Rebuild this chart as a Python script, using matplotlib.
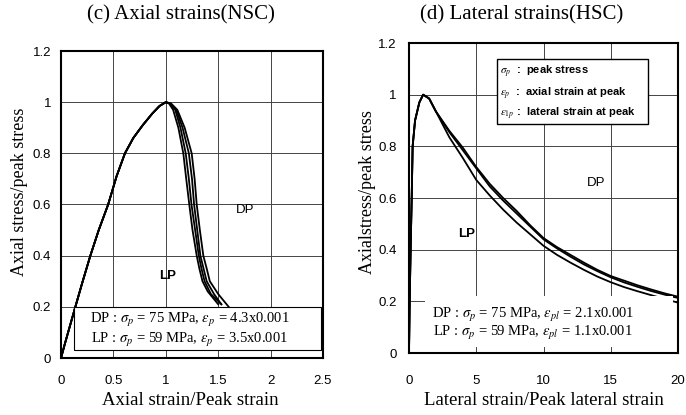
import matplotlib
matplotlib.use("Agg")
import matplotlib.pyplot as plt
from matplotlib.patches import Rectangle

plt.rcParams['mathtext.fontset'] = 'stix'

# (c) axial strains, NSC - shared rising branch, four falling branches
ax_up_x = [0, 0.04, 0.13, 0.2, 0.28, 0.36, 0.45, 0.53, 0.61, 0.69, 0.78, 0.87, 0.94, 1.0]
ax_up_y = [0, 0.06, 0.19, 0.29, 0.4, 0.5, 0.6, 0.71, 0.8, 0.86, 0.91, 0.955, 0.985, 1.0]

ax_dn_x = [
    [1.03, 1.07, 1.12, 1.167, 1.195, 1.224, 1.255, 1.295, 1.32, 1.35, 1.40, 1.46, 1.50],
    [1.04, 1.09, 1.14, 1.19, 1.22, 1.245, 1.28, 1.315, 1.34, 1.37, 1.43, 1.53],
    [1.04, 1.10, 1.16, 1.22, 1.25, 1.27, 1.30, 1.33, 1.36, 1.39, 1.46, 1.53],
    [1.05, 1.11, 1.18, 1.247, 1.275, 1.295, 1.325, 1.358, 1.39, 1.42, 1.50, 1.60],
]
ax_dn_y = [
    [0.995, 0.97, 0.9, 0.8, 0.7, 0.6, 0.5, 0.4, 0.35, 0.3, 0.26, 0.23, 0.21],
    [0.995, 0.97, 0.9, 0.8, 0.7, 0.6, 0.5, 0.4, 0.35, 0.3, 0.25, 0.21],
    [0.995, 0.97, 0.9, 0.8, 0.7, 0.6, 0.5, 0.4, 0.35, 0.3, 0.25, 0.21],
    [0.995, 0.97, 0.9, 0.8, 0.7, 0.6, 0.5, 0.4, 0.35, 0.3, 0.25, 0.20],
]

# (d) lateral strains, HSC
lat_up_x = [0, 0.05, 0.12, 0.2, 0.27, 0.45, 0.77, 1.05]
lat_up_y = [0, 0.2, 0.4, 0.6, 0.8, 0.9, 0.97, 1.0]

lat_dn_x = [1.5, 2, 3, 4, 5, 6, 7, 8, 9, 10, 11, 12, 13, 14, 15, 16, 17, 18, 19, 20]
lat_dn_y = [
    [0.985, 0.935, 0.86, 0.795, 0.72, 0.655, 0.60, 0.55, 0.495, 0.445, 0.41, 0.38,
     0.35, 0.322, 0.298, 0.28, 0.262, 0.246, 0.231, 0.218],
    [0.985, 0.935, 0.855, 0.785, 0.715, 0.645, 0.59, 0.54, 0.49, 0.44, 0.405, 0.373,
     0.343, 0.317, 0.293, 0.273, 0.256, 0.24, 0.226, 0.213],
    [0.985, 0.935, 0.835, 0.755, 0.67, 0.61, 0.555, 0.505, 0.46, 0.415, 0.38, 0.35,
     0.322, 0.296, 0.274, 0.255, 0.239, 0.224, 0.209, 0.195],
]

left_xticks = [0, 0.5, 1, 1.5, 2, 2.5]
left_xlabels = ['0', '0.5', '1', '1.5', '2', '2.5']
right_xticks = [0, 5, 10, 15, 20]
yticks = [0, 0.2, 0.4, 0.6, 0.8, 1.0, 1.2]
ylabels = ['0', '0.2', '0.4', '0.6', '0.8', '1', '1.2']

serif = 'Liberation Serif'
sans = 'Liberation Sans'


def style(ax, xticks, xlabels, xpad, ypad):
    ax.set_xticks(xticks)
    ax.set_xticklabels(xlabels, fontfamily=sans, fontsize=9.5)
    ax.set_yticks(yticks)
    ax.set_yticklabels(ylabels, fontfamily=sans, fontsize=9.5)
    ax.tick_params(axis='x', length=0, pad=xpad)
    ax.tick_params(axis='y', length=0, pad=ypad)
    ax.grid(True, color='#444444', lw=0.7)
    ax.set_axisbelow(True)
    for s in ax.spines.values():
        s.set_linewidth(1.5)
        s.set_color('black')


fig = plt.figure(figsize=(6.86, 4.15), dpi=100)

# ---- left panel
ax1 = fig.add_axes([61 / 686, 57 / 415, 262 / 686, 307 / 415])
for dx, dy in zip(ax_dn_x, ax_dn_y):
    ax1.plot(ax_up_x + dx, ax_up_y + dy, color='black', lw=1.3)
ax1.set_xlim(0, 2.5)
ax1.set_ylim(0, 1.2)
style(ax1, left_xticks, left_xlabels, 12, 7)
ax1.add_patch(Rectangle((0.12, 0.03), 2.36, 0.17, facecolor='white',
                        edgecolor='black', lw=0.8, zorder=2))
ax1.text(0.49, 0.124, r'DP : $\sigma_p$ = 75 MPa, $\varepsilon_p$ = 4.3x0.001',
         transform=ax1.transAxes, ha='center', va='center', fontfamily=serif,
         fontsize=10.5, zorder=3)
ax1.text(0.49, 0.058, r'LP : $\sigma_p$ = 59 MPa, $\varepsilon_p$ = 3.5x0.001',
         transform=ax1.transAxes, ha='center', va='center', fontfamily=serif,
         fontsize=10.5, zorder=3)
ax1.text(1.76, 0.58, 'DP', fontfamily=sans, fontsize=9.5, ha='center', va='center')
ax1.text(1.02, 0.32, 'LP', fontfamily=sans, fontsize=9.5, fontweight='bold',
         ha='center', va='center')

# ---- right panel
ax2 = fig.add_axes([409 / 686, 62 / 415, 269 / 686, 310 / 415])
for dy in lat_dn_y:
    ax2.plot(lat_up_x + lat_dn_x, lat_up_y + dy, color='black', lw=1.3)
ax2.set_xlim(0, 20)
ax2.set_ylim(0, 1.2)
style(ax2, right_xticks, [str(v) for v in right_xticks], 16, 9)
ax2.add_patch(Rectangle((0.06, 0.02), 0.92, 0.165, transform=ax2.transAxes,
                        facecolor='white', edgecolor='none', zorder=2))
ax2.text(0.46, 0.123, r'DP : $\sigma_p$ = 75 MPa, $\varepsilon_{pl}$ = 2.1x0.001',
         transform=ax2.transAxes, ha='center', va='center', fontfamily=serif,
         fontsize=10.5, zorder=3)
ax2.text(0.46, 0.063, r'LP : $\sigma_p$ = 59 MPa, $\varepsilon_{pl}$ = 1.1x0.001',
         transform=ax2.transAxes, ha='center', va='center', fontfamily=serif,
         fontsize=10.5, zorder=3)
ax2.text(13.9, 0.66, 'DP', fontfamily=sans, fontsize=9.5, ha='center', va='center')
ax2.text(4.3, 0.46, 'LP', fontfamily=sans, fontsize=9.5, fontweight='bold',
         ha='center', va='center')

ax2.add_patch(Rectangle((0.327, 0.739), 0.561, 0.209, transform=ax2.transAxes,
                        facecolor='white', edgecolor='black', lw=1.0, zorder=4))
key = [r'$\sigma_p$  :  peak stress', r'$\varepsilon_p$  :  axial strain at peak',
       r'$\varepsilon_{1p}$ :  lateral strain at peak']
for yy, t in zip([0.907, 0.835, 0.77], key):
    ax2.text(0.34, yy, t, transform=ax2.transAxes, ha='left', va='center',
             fontfamily=sans, fontsize=8, fontweight='bold', zorder=5)

# titles and axis labels
fig.text(181 / 686, 1 - 15 / 415, '(c) Axial strains(NSC)', fontfamily=serif,
         fontsize=15, ha='center', va='center')
fig.text(522 / 686, 1 - 15 / 415, '(d) Lateral strains(HSC)', fontfamily=serif,
         fontsize=15, ha='center', va='center')
fig.text(190 / 686, 1 - 400 / 415, 'Axial strain/Peak strain', fontfamily=serif,
         fontsize=13.5, ha='center', va='center')
fig.text(544 / 686, 1 - 400 / 415, 'Lateral strain/Peak lateral strain',
         fontfamily=serif, fontsize=13.5, ha='center', va='center')
fig.text(20 / 686, 1 - 192 / 415, 'Axial stress/peak stress', fontfamily=serif,
         fontsize=13, ha='center', va='center', rotation=90)
fig.text(367 / 686, 1 - 192 / 415, 'Axialstress/peak stress', fontfamily=serif,
         fontsize=13, ha='center', va='center', rotation=90)

fig.savefig('out.png', dpi=100)
